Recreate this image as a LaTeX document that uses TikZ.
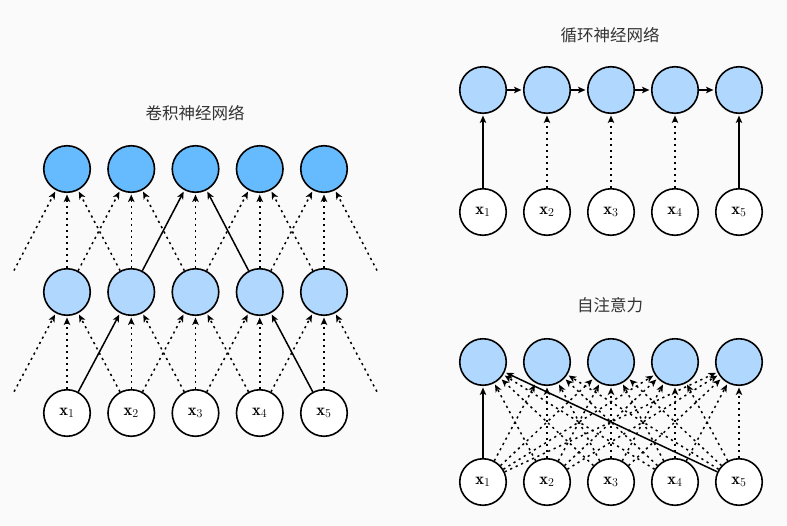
\documentclass[tikz,border=0pt]{standalone}
\usepackage{fontspec}
\newfontfamily\cjk{Noto Sans CJK SC}
\usetikzlibrary{arrows.meta}
\definecolor{bg}{HTML}{FAFAFA}
\definecolor{topblue}{HTML}{66BBFF}
\definecolor{midblue}{HTML}{B0D8FF}
\definecolor{titlecol}{HTML}{333333}
\tikzset{
  neuron/.style={circle, draw=black, line width=1.6pt, minimum size=46.5pt, inner sep=0pt},
  topn/.style={neuron, fill=topblue},
  midn/.style={neuron, fill=midblue},
  inn/.style={neuron, fill=white, font=\fontsize{16.5}{18}\selectfont},
  ghost/.style={circle, minimum size=48pt, inner sep=0pt},
  conn/.style={line width=1.5pt, -{Stealth[length=7.5pt,width=6.5pt,inset=2pt]}, shorten >=1.5pt},
  dotc/.style={conn, dash pattern=on 2.2pt off 3.8pt},
  ttl/.style={font=\cjk\fontsize{16.5}{18}\selectfont, text=titlecol},
}
\begin{document}
\begin{tikzpicture}[x=1pt,y=-1pt]
\useasboundingbox[fill=bg] (0,0) rectangle (787,525);

% ---------- CNN ----------
\node[ttl] (ctitle) at (195,113) {卷积神经网络};
\foreach \i in {1,...,5} {
  \pgfmathsetmacro\xx{67+64.25*(\i-1)}
  \node[topn] (ct\i) at (\xx,169) {};
  \node[midn] (cm\i) at (\xx,292) {};
  \node[inn] (cx\i) at (\xx,413) {$\mathbf{x}_{\i}$};
}
\node[ghost] (cm0) at (2.75,292) {};
\node[ghost] (cm6) at (388.25,292) {};
\node[ghost] (cx0) at (2.75,413) {};
\node[ghost] (cx6) at (388.25,413) {};
\foreach \i in {1,...,5} {
  \foreach \d in {-1,0,1} {
    \pgfmathtruncatemacro\j{\i+\d}
    \pgfmathtruncatemacro\sa{(\j==2 && \i==3) || (\j==4 && \i==3)}
    \pgfmathtruncatemacro\sb{(\j==1 && \i==2) || (\j==5 && \i==4)}
    \ifnum\sa=1 \draw[conn] (cm\j) -- (ct\i); \else \draw[dotc] (cm\j) -- (ct\i); \fi
    \ifnum\sb=1 \draw[conn] (cx\j) -- (cm\i); \else \draw[dotc] (cx\j) -- (cm\i); \fi
  }
}

% ---------- RNN ----------
\node[ttl] (rtitle) at (610,35) {循环神经网络};
\foreach \i in {1,...,5} {
  \pgfmathsetmacro\xx{483+64*(\i-1)}
  \node[midn] (rh\i) at (\xx,90) {};
  \node[inn] (rx\i) at (\xx,212) {$\mathbf{x}_{\i}$};
}
\foreach \i/\n in {1/2,2/3,3/4,4/5} \draw[conn] (rh\i) -- (rh\n);
\draw[conn] (rx1) -- (rh1);
\draw[conn] (rx5) -- (rh5);
\foreach \i in {2,3,4} \draw[dotc] (rx\i) -- (rh\i);

% ---------- Self-attention ----------
\node[ttl] (stitle) at (610,305) {自注意力};
\foreach \i in {1,...,5} {
  \pgfmathsetmacro\xx{483+64*(\i-1)}
  \node[midn] (sh\i) at (\xx,362) {};
  \node[inn] (sx\i) at (\xx,482) {$\mathbf{x}_{\i}$};
}
\foreach \i in {1,...,5} {
  \foreach \j in {1,...,5} {
    \pgfmathtruncatemacro\sc{(\i==1 && \j==1) || (\i==1 && \j==5)}
    \ifnum\sc=1 \draw[conn] (sx\j) -- (sh\i); \else \draw[dotc] (sx\j) -- (sh\i); \fi
  }
}
\end{tikzpicture}
\end{document}
